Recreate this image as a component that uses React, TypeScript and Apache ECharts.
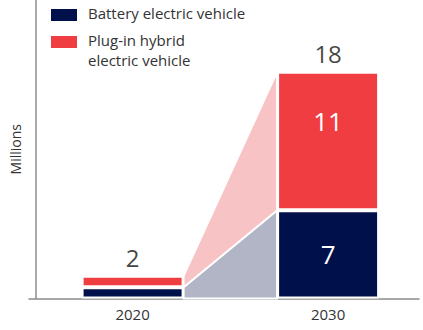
import React, { useEffect, useRef } from "react";
import * as echarts from "echarts";

const years = [2020, 2030];
const yearLabels = ["2020", "2030"];
const bevValues = [0.9, 7];
const phevValues = [0.9, 11];
const totals = [2, 18];
const seriesNames = ["Battery electric vehicle", "Plug-in hybrid electric vehicle"];
const legendLines = [["Battery electric vehicle"], ["Plug-in hybrid", "electric vehicle"]];
const yAxisName = "Millions";

const NAVY = "#00104a";
const RED = "#ef3d42";
const GRAY = "#b1b5c6";
const PINK = "#f7c3c4";
const BAR_WIDTH = 102;
const FONT = "'Open Sans', sans-serif";

export default function App() {
  const ref = useRef<HTMLDivElement>(null);
  useEffect(() => {
    document.body.style.margin = "0";
    if (!ref.current) return;
    const chart = echarts.init(ref.current, null, { renderer: "svg" });
    const connectors = [
      [years[0], years[1], 0, bevValues[0], 0, bevValues[1]],
      [
        years[0],
        years[1],
        bevValues[0],
        bevValues[0] + phevValues[0],
        bevValues[1],
        bevValues[1] + phevValues[1],
      ],
    ];
    const connectorColors = [GRAY, PINK];
    const legendColors = [NAVY, RED];
    const legendTops = [9, 36];
    const legendGraphics: any[] = [];
    legendLines.forEach((lines, i) => {
      legendGraphics.push({
        type: "rect",
        left: 51,
        top: legendTops[i],
        shape: { width: 26, height: 12 },
        style: { fill: legendColors[i] },
      });
      lines.forEach((line, j) => {
        legendGraphics.push({
          type: "text",
          left: 88,
          top: legendTops[i] - 4 + j * 20.5,
          style: {
            text: line,
            fill: "#333",
            font: `15px ${FONT}`,
          },
        });
      });
    });
    chart.setOption({
      animation: false,
      textStyle: { fontFamily: FONT },
      grid: { left: 20, right: 4, top: 0, bottom: 31.5 },
      graphic: legendGraphics,
      xAxis: {
        type: "value",
        min: 2014.7,
        max: 2034.65,
        splitLine: { show: false },
        axisTick: { show: false },
        axisLine: { show: true, lineStyle: { color: "#8c8c8c", width: 1.5 } },
        axisLabel: {
          customValues: years,
          formatter: (v: number) => yearLabels[years.indexOf(v)] ?? "",
          fontSize: 15,
          color: "#333",
          margin: 8,
          fontFamily: FONT,
        },
      },
      yAxis: {
        type: "value",
        min: 0,
        max: 23.7,
        offset: -7,
        name: yAxisName,
        nameLocation: "middle",
        nameGap: 14,
        nameTextStyle: { fontSize: 14, color: "#333", fontFamily: FONT },
        splitLine: { show: false },
        axisTick: { show: false },
        axisLabel: { show: false },
        axisLine: { show: true, onZero: false, lineStyle: { color: "#8c8c8c", width: 1.5 } },
      },
      series: [
        {
          type: "custom",
          name: "connector",
          encode: { x: [0, 1], y: [2, 3, 4, 5] },
          data: connectors,
          z: 1,
          renderItem: (params: any, api: any) => {
            const x0 = api.value(0);
            const x1 = api.value(1);
            const b0 = api.coord([x0, api.value(2)]);
            const t0 = api.coord([x0, api.value(3)]);
            const b1 = api.coord([x1, api.value(4)]);
            const t1 = api.coord([x1, api.value(5)]);
            const h = BAR_WIDTH / 2;
            return {
              type: "polygon",
              shape: {
                points: [
                  [b0[0] + h, b0[1]],
                  [t0[0] + h, t0[1]],
                  [t1[0] - h, t1[1]],
                  [b1[0] - h, b1[1]],
                ],
              },
              style: {
                fill: connectorColors[params.dataIndex],
                stroke: "#fff",
                lineWidth: 2,
              },
            };
          },
        },
        {
          type: "bar",
          name: seriesNames[0],
          stack: "total",
          barWidth: BAR_WIDTH,
          encode: { x: 1, y: 0 },
          itemStyle: { color: NAVY, borderColor: "#fff", borderWidth: 2 },
          data: years.map((y, i) => [bevValues[i], y]),
          z: 3,
          label: {
            show: true,
            position: "inside",
            color: "#fff",
            fontSize: 26,
            fontFamily: FONT,
            formatter: (p: any) => (p.dataIndex === 0 ? "" : String(bevValues[p.dataIndex])),
          },
        },
        {
          type: "bar",
          name: seriesNames[1],
          stack: "total",
          barWidth: BAR_WIDTH,
          encode: { x: 1, y: 0 },
          itemStyle: { color: RED, borderColor: "#fff", borderWidth: 2 },
          data: years.map((y, i) => [phevValues[i], y]),
          z: 3,
          label: {
            show: true,
            position: "inside",
            offset: [0, -20],
            color: "#fff",
            fontSize: 26,
            fontFamily: FONT,
            formatter: (p: any) => (p.dataIndex === 0 ? "" : String(phevValues[p.dataIndex])),
          },
        },
        {
          type: "scatter",
          name: "total",
          symbolSize: 0,
          z: 4,
          data: years.map((y, i) => [y, bevValues[i] + phevValues[i], totals[i]]),
          label: {
            show: true,
            position: "top",
            distance: 6,
            color: "#111",
            fontSize: 24,
            fontFamily: FONT,
            formatter: (p: any) => String(p.value[2]),
          },
        },
      ],
    });
    return () => chart.dispose();
  }, []);
  return <div ref={ref} style={{ width: 423, height: 330 }} />;
}
